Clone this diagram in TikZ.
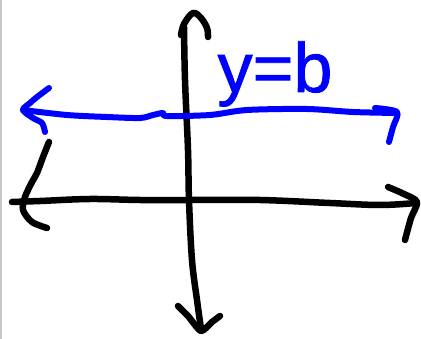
\documentclass[tikz,border=0pt]{standalone}
\usepackage{fontspec}
\setmainfont{Liberation Sans}
\newfontfamily\penfont[FakeBold=1.2]{Liberation Sans}
\definecolor{penblue}{RGB}{0,0,255}
\definecolor{framegray}{RGB}{200,200,200}
\tikzset{
  blackpen/.style={draw=black, line width=6.5pt, line cap=round, line join=round},
  bluepen/.style={draw=penblue, line width=6pt, line cap=round, line join=round},
  label/.style={text=penblue, font=\penfont\fontsize{70}{70}\selectfont, inner sep=0pt, anchor=base}
}
\begin{document}
\begin{tikzpicture}[x=1pt,y=-1pt]
\useasboundingbox (0,0) rectangle (421,339);
\fill[white] (0,0) rectangle (421,339);
\draw[framegray, line width=1.5pt] (0.75,0) -- (0.75,339);
% y-axis
\draw[blackpen] plot[smooth, tension=0.6] coordinates {(184,27) (185,80) (188,150) (189,200) (192,260) (197,300) (201,329)};
\draw[blackpen] plot[smooth, tension=0.6] coordinates {(181,35) (184,24) (193,13) (201,18) (207,28) (208,37)};
\draw[blackpen] plot[smooth, tension=0.4] coordinates {(178,306) (188,316) (201,331) (212,322) (220,316)};
% x-axis
\draw[blackpen] plot[smooth, tension=0.6] coordinates {(12,202) (40,201) (90,199) (140,200) (190,200) (260,200) (330,203) (380,205) (416,203)};
\draw[blackpen] plot[smooth, tension=0.5] coordinates {(388,187) (404,194) (417,202) (411,218) (405,240)};
\draw[blackpen] plot[smooth, tension=0.5] coordinates {(49,142) (43,157) (37,173) (32,182) (25,197) (23,210) (32,222) (47,228)};
% blue line y=b
\draw[bluepen] plot[smooth, tension=0.5] coordinates {(23,110) (67,115) (107,117) (140,118) (153,115) (163,113) (167,116) (210,115) (247,110) (307,109) (353,112) (397,113)};
\draw[bluepen] plot[smooth, tension=0.5] coordinates {(49,88) (37,97) (30,103) (23,110) (33,118) (42,123) (45,132)};
\draw[bluepen] plot[smooth, tension=0.5] coordinates {(375,108) (397,112) (393,127) (389,142)};
\node[label] (eq) at (275,92) {y=b};
\end{tikzpicture}
\end{document}
